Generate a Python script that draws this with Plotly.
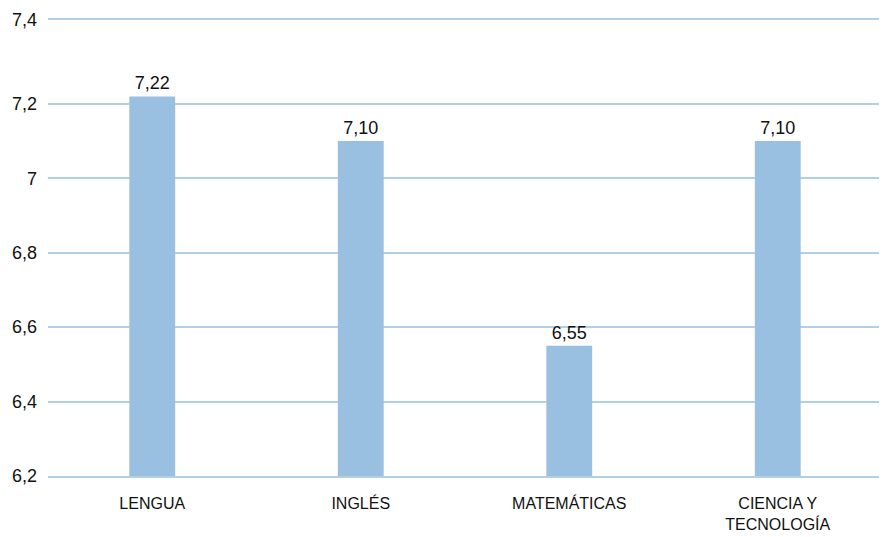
import plotly.graph_objects as go

categories = ["LENGUA", "INGLÉS", "MATEMÁTICAS", "CIENCIA Y<br>TECNOLOGÍA"]
values = [7.22, 7.10, 6.55, 7.10]
tick_vals = [6.2, 6.4, 6.6, 6.8, 7.0, 7.2, 7.4255]
tick_text = ["6,2", "6,4", "6,6", "6,8", "7", "7,2", "7,4"]

FONT = "Liberation Sans Narrow, Arial Narrow, Liberation Sans, sans-serif"
BAR = "#99c0e0"
GRID = "#b3cfe7"

fig = go.Figure(go.Bar(
    x=categories, y=values,
    marker=dict(color=BAR, line=dict(width=0)),
    texttemplate="%{y:.2f}", textposition="outside",
    textfont=dict(family=FONT, size=18, color="#111111"),
    cliponaxis=False,
))

# page body has an 8px margin; figure size/margins compensate for it
fig.update_layout(
    width=879, height=529,
    margin=dict(l=40, r=5, t=12, b=61, autoexpand=False),
    paper_bgcolor="white", plot_bgcolor="white",
    separators=",.",
    bargap=0.78,
    showlegend=False,
    font=dict(family=FONT, color="#111111"),
)
fig.update_yaxes(
    range=[6.2, 7.4255], tickvals=tick_vals, ticktext=tick_text,
    showgrid=True, gridcolor=GRID, gridwidth=1.5,
    zeroline=False, showline=False, ticks="",
    tickfont=dict(family=FONT, size=18, color="#111111"),
    ticklabelstandoff=10, automargin=False,
)
fig.update_xaxes(
    showgrid=False, showline=True, mirror=True, linecolor=GRID, linewidth=1.5,
    ticks="",
    tickfont=dict(family=FONT, size=16, color="#111111"),
    ticklabelstandoff=12, automargin=False,
)

fig.write_html("out.html")
